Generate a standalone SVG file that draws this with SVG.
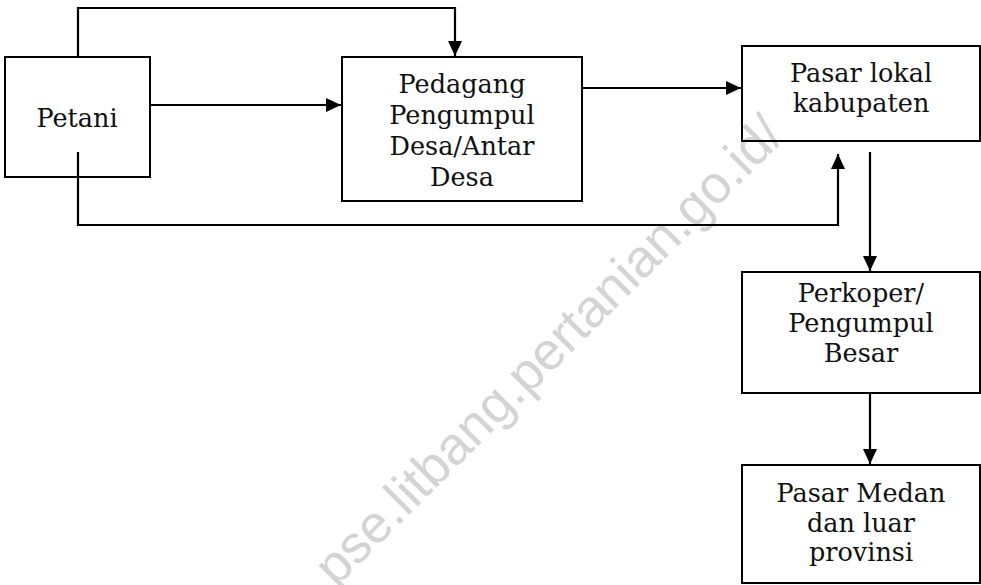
<svg xmlns="http://www.w3.org/2000/svg" width="981" height="585" viewBox="0 0 981 585">
<style>
.box{fill:none;stroke:#000;stroke-width:2}
.lbl{font-family:"DejaVu Serif","Liberation Serif",serif;font-size:25.5px;fill:#111;text-anchor:middle}
.con{fill:none;stroke:#000;stroke-width:2.2}
.wm{font-family:"Liberation Sans",Arial,sans-serif;font-size:53px;fill:#d4d4d4}
</style>
<defs>
<marker id="ah" markerUnits="userSpaceOnUse" markerWidth="16" markerHeight="15" refX="15" refY="7" orient="auto">
<path d="M0,0 L15,7 L0,14 z" fill="#000"/>
</marker>
</defs>
<rect width="981" height="585" fill="#fff"/>
<text class="wm" x="336" y="588" transform="rotate(-45 336 588)">pse.litbang.pertanian.go.id/</text>
<g id="petani">
<rect class="box" x="5" y="57" width="145" height="120"/>
<text class="lbl" x="77" y="127">Petani</text>
</g>
<g id="pedagang">
<rect class="box" x="342" y="57" width="240" height="144"/>
<text class="lbl" x="462" y="93">Pedagang</text>
<text class="lbl" x="462" y="124">Pengumpul</text>
<text class="lbl" x="462" y="155">Desa/Antar</text>
<text class="lbl" x="462" y="186">Desa</text>
</g>
<g id="pasar-lokal">
<rect class="box" x="742" y="46" width="238" height="95"/>
<text class="lbl" x="861" y="82">Pasar lokal</text>
<text class="lbl" x="861" y="112">kabupaten</text>
</g>
<g id="perkoper">
<rect class="box" x="742" y="272" width="238" height="121"/>
<text class="lbl" x="861" y="302">Perkoper/</text>
<text class="lbl" x="861" y="332">Pengumpul</text>
<text class="lbl" x="861" y="362">Besar</text>
</g>
<g id="pasar-medan">
<rect class="box" x="742" y="465" width="238" height="118"/>
<text class="lbl" x="861" y="502">Pasar Medan</text>
<text class="lbl" x="861" y="532">dan luar</text>
<text class="lbl" x="861" y="561">provinsi</text>
</g>
<g id="connectors">
<path class="con" d="M78,57 V8 H455 V56" marker-end="url(#ah)"/>
<path class="con" d="M150,105 H341" marker-end="url(#ah)"/>
<path class="con" d="M582,88 H741" marker-end="url(#ah)"/>
<path class="con" d="M78,152 V225 H838 V154" marker-end="url(#ah)"/>
<path class="con" d="M870,152 V271" marker-end="url(#ah)"/>
<path class="con" d="M870,393 V464" marker-end="url(#ah)"/>
</g>
</svg>
